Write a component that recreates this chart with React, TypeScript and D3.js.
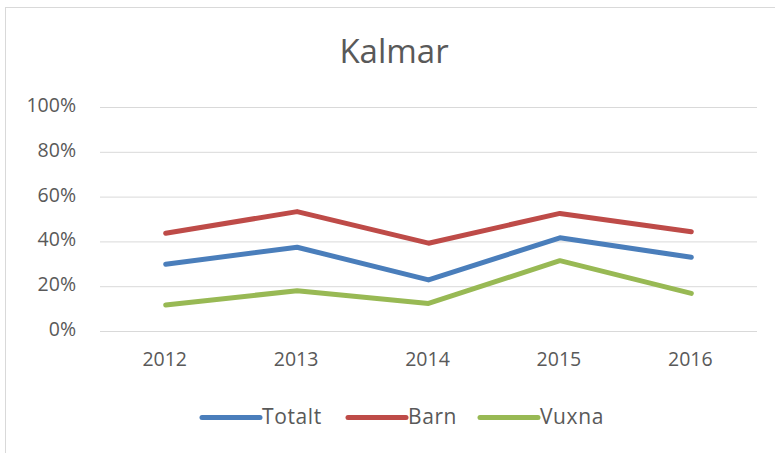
import React from "react";
import * as d3 from "d3";

const years = ["2012", "2013", "2014", "2015", "2016"];
const totalt = [29.8, 37.4, 22.8, 41.6, 32.9];
const barn = [43.6, 53.3, 39.2, 52.5, 44.3];
const vuxna = [11.6, 18.0, 12.3, 31.4, 16.8];
const yTicks = [0, 20, 40, 60, 80, 100];
const seriesNames = ["Totalt", "Barn", "Vuxna"];
const seriesColors = ["#4a7ebb", "#be4b48", "#98b954"];

export default function App() {
  const W = 775, H = 453;
  const x = d3.scaleBand().domain(years).range([100, 757]);
  const y = d3.scaleLinear().domain([0, 100]).range([331, 107]);
  const line = d3.line<number>().x((_, i) => x(years[i])! + x.bandwidth() / 2).y(d => y(d));
  const series = [totalt, barn, vuxna];
  const font = "'Open Sans', sans-serif";
  const legendX = [202, 348, 480];
  return (
    <svg width={W} height={H} style={{ position: "fixed", left: 0, top: 0, background: "#fff" }}>
      <rect x={0} y={0} width={W} height={H} fill="#fff" />
      <rect x={5.5} y={7.5} width={W + 20} height={H + 20} fill="#fff" stroke="#d9d9d9" strokeWidth={1} />
      <text x={394} y={63} textAnchor="middle" fontFamily={font} fontSize={33} fill="#595959">Kalmar</text>
      {yTicks.map(t => (
        <g key={t}>
          <line x1={100} x2={757} y1={y(t) + 0.5} y2={y(t) + 0.5} stroke="#d9d9d9" strokeWidth={1} />
          <text x={76} y={y(t) + 5} textAnchor="end" fontFamily={font} fontSize={19.5} fill="#595959">{t}%</text>
        </g>
      ))}
      {years.map(yr => (
        <text key={yr} x={x(yr)! + x.bandwidth() / 2 - 1} y={366} textAnchor="middle" fontFamily={font} fontSize={19.5} fill="#595959">{yr}</text>
      ))}
      {series.map((s, i) => (
        <path key={i} d={line(s) || ""} fill="none" stroke={seriesColors[i]} strokeWidth={5} strokeLinecap="round" strokeLinejoin="round" />
      ))}
      {seriesNames.map((n, i) => (
        <g key={n}>
          <line x1={legendX[i]} x2={legendX[i] + 58} y1={417.5} y2={417.5} stroke={seriesColors[i]} strokeWidth={5} strokeLinecap="round" />
          <text x={legendX[i] + 60} y={424} fontFamily={font} fontSize={21} letterSpacing={0.6} fill="#595959">{n}</text>
        </g>
      ))}
    </svg>
  );
}
